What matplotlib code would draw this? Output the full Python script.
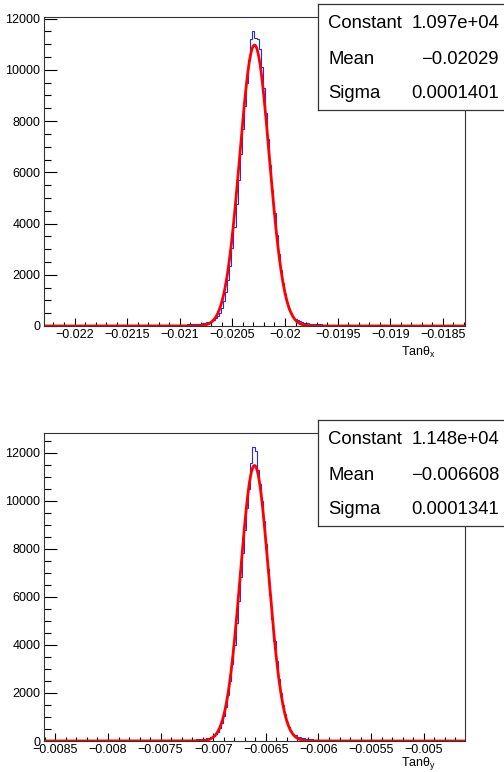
import numpy as np
import matplotlib
matplotlib.use("Agg")
import matplotlib.pyplot as plt
from matplotlib.ticker import FixedLocator, MultipleLocator

plt.rcParams['font.family'] = ['Liberation Sans', 'DejaVu Sans']

W, H = 504, 772
BIN_W = 0.00002

# ---------------- top panel data (Tan theta_x) ----------------
x_const = 1.097e4
x_mean = -0.02029
x_sigma = 0.0001401
x_ticks = [-0.022, -0.0215, -0.021, -0.0205, -0.02, -0.0195, -0.019, -0.0185]
x_left_tail = [8, 9, 8, 10, 9, 11, 10, 12, 11, 13, 12, 14, 13, 15, 14, 16, 15, 17, 16, 18,
               17, 19, 18, 20, 21, 20, 22, 23, 22, 24, 25, 24, 26, 27, 26, 28, 29, 30, 29, 31,
               32, 33, 32, 34, 35, 36, 35, 37, 38, 39, 40, 39, 41, 42, 43, 44, 45, 46, 47, 48,
               49, 50, 51, 52, 53, 54, 55, 57, 59, 62]
x_core = [65, 70, 78, 85, 95, 105, 120, 140, 165, 195, 240, 300, 390, 520, 710, 970, 1320, 1780,
          2350, 3050, 3850, 4750, 5700, 6700, 7700, 8600, 9500, 10400, 11200, 11500,
          11250, 11200, 10800, 10100, 9300, 8300, 7300, 6300, 5300, 4400, 3550, 2820, 2200,
          1680, 1260, 930, 680, 500, 370, 280, 220, 180, 150, 130, 115, 100, 90, 80, 72, 65]
x_right_tail = [62, 59, 57, 55, 54, 52, 51, 50, 48, 47, 46, 45, 44, 43, 42, 41, 40, 39, 38, 37,
                36, 35, 34, 33, 32, 31, 30, 29, 29, 28, 27, 26, 26, 25, 24, 23, 23, 22, 21, 21,
                20, 19, 19, 18, 18, 17, 17, 16, 16, 15, 15, 14, 14, 13, 13, 12, 12, 12, 11, 11,
                10, 10, 10, 9, 9, 9, 8, 8, 8, 7]

# ---------------- bottom panel data (Tan theta_y) ----------------
y_const = 1.148e4
y_mean = -0.006608
y_sigma = 0.0001341
y_ticks = [-0.0085, -0.008, -0.0075, -0.007, -0.0065, -0.006, -0.0055, -0.005]
y_left_tail = [7, 8, 8, 9, 9, 10, 10, 11, 11, 12, 12, 13, 13, 14, 14, 15, 15, 16, 16, 17,
               17, 18, 18, 19, 19, 20, 21, 21, 22, 23, 23, 24, 25, 25, 26, 27, 27, 28, 29, 30,
               30, 31, 32, 33, 33, 34, 35, 36, 37, 37, 38, 39, 40, 41, 41, 42, 43, 44, 45, 46,
               46, 47, 48, 49, 49, 50, 51, 52, 53, 54]
y_core = [55, 60, 65, 72, 80, 90, 100, 115, 135, 165, 210, 280, 390, 540, 760, 1050, 1430, 1920,
          2500, 3200, 4000, 4900, 5850, 6850, 7850, 8800, 9700, 10500, 11600, 12250,
          12100, 11300, 10700, 10000, 9150, 8200, 7150, 6100, 5100, 4150, 3330, 2600, 2000,
          1500, 1110, 800, 580, 420, 310, 235, 185, 150, 125, 110, 95, 85, 76, 68, 62, 56]
y_right_tail = [54, 52, 51, 50, 48, 47, 46, 45, 44, 43, 42, 41, 40, 39, 38, 37, 36, 35, 34, 33,
                32, 31, 30, 30, 29, 28, 27, 26, 26, 25, 24, 23, 23, 22, 21, 21, 20, 19, 19, 18,
                18, 17, 17, 16, 16, 15, 15, 14, 14, 13, 13, 12, 12, 12, 11, 11, 10, 10, 10, 9,
                9, 9, 8, 8, 8, 7, 7, 7, 6, 6]


def fx(px):
    return px / W


def fy(py):
    return 1 - py / H


fig = plt.figure(figsize=(W / 100, H / 100), dpi=100)

TICK_FS = 9.0
BOX_FS = 13.3


def panel(top_px, bot_px, const, mean, sigma, ticks, left, core, right, ymax, xlabel_sub, box_top,
          label_y):
    ax = fig.add_axes([fx(44), fy(bot_px), fx(465) - fx(44), fy(top_px) - fy(bot_px)])
    counts = np.array(left + core + right, dtype=float)
    n_left = len(left) + 30
    edges = mean + (np.arange(len(counts) + 1) - n_left) * BIN_W
    ax.stairs(counts, edges, color='#2a2ad8', lw=0.8)
    xs = np.linspace(mean - 0.002, mean + 0.002, 1500)
    ax.plot(xs, const * np.exp(-0.5 * ((xs - mean) / sigma) ** 2), color='#ff0000', lw=2.0)
    ax.set_xlim(mean - 0.002, mean + 0.002)
    ax.set_ylim(0, ymax)
    ax.xaxis.set_major_locator(FixedLocator(ticks))
    ax.set_xticklabels([f"{t:g}".replace('-', '\u2212') for t in ticks])
    ax.xaxis.set_minor_locator(MultipleLocator(0.0001))
    ax.yaxis.set_major_locator(MultipleLocator(2000))
    ax.yaxis.set_minor_locator(MultipleLocator(500))
    ax.tick_params(axis='x', which='major', direction='in', length=6, width=0.8, labelsize=TICK_FS,
                   pad=2.5, top=False)
    ax.tick_params(axis='x', which='minor', direction='in', length=3, width=0.8, top=False)
    ax.tick_params(axis='y', which='major', direction='in', length=9, width=0.8, labelsize=TICK_FS,
                   pad=2.5, right=False)
    ax.tick_params(axis='y', which='minor', direction='in', length=5, width=0.8, right=False)
    for s in ax.spines.values():
        s.set_linewidth(0.8)
        s.set_color('#333333')
    # axis title
    fig.text(fx(436), fy(label_y), 'Tan\u03b8$_\\mathregular{' + xlabel_sub + '}$', ha='right',
             va='center', fontsize=TICK_FS)
    # stats box
    bx = fig.add_axes([fx(318), fy(box_top + 106), 1 - fx(318) + 0.01, fy(box_top) - fy(box_top + 106)])
    bx.set_xlim(0, 1)
    bx.set_ylim(0, 1)
    bx.set_xticks([])
    bx.set_yticks([])
    for s in bx.spines.values():
        s.set_linewidth(0.9)
        s.set_color('#333333')
    rows = [('Constant', f"{const:.3e}"),
            ('Mean', f"{mean:.4g}".replace('-', '\u2212')),
            ('Sigma', f"{sigma:.4g}")]
    row_px = [19.5, 55.5, 89]
    for (name, val), rp in zip(rows, row_px):
        yy = 1 - rp / 106
        bx.text(10 / 191, yy, name, ha='left', va='center', fontsize=BOX_FS, transform=bx.transAxes)
        bx.text(181 / 191, yy, val, ha='right', va='center', fontsize=BOX_FS, transform=bx.transAxes)
    return ax


panel(17, 326, x_const, x_mean, x_sigma, x_ticks, x_left_tail, x_core, x_right_tail,
      12065, 'x', 4, 352)
panel(433, 741, y_const, y_mean, y_sigma, y_ticks, y_left_tail, y_core, y_right_tail,
      12833, 'y', 420, 764)

fig.savefig('out.png', dpi=100)
